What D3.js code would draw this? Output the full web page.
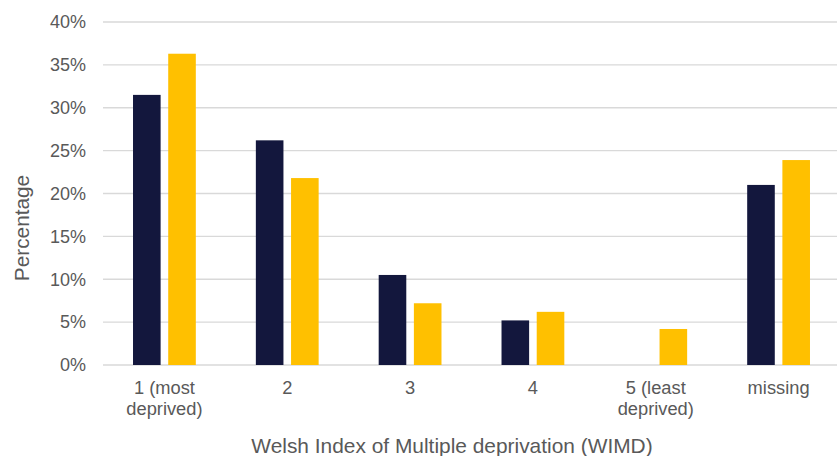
<!DOCTYPE html>
<html><head><meta charset="utf-8">
<script src="https://cdn.jsdelivr.net/npm/d3@7"></script>
<style>body{margin:0;background:#fff}svg{display:block}text{font-family:"Liberation Sans",Arial,sans-serif;fill:#595959}</style>
</head><body><svg id="c" width="837" height="456"></svg>
<script>
const categories = [["1 (most","deprived)"],["2"],["3"],["4"],["5 (least","deprived)"],["missing"]];
const seriesA = [31.5, 26.2, 10.5, 5.2, 0, 21.0];
const seriesB = [36.3, 21.8, 7.2, 6.2, 4.2, 23.9];
const yTicks = [0,5,10,15,20,25,30,35,40];
const colors = ["#13173d", "#ffc000"];

const svg = d3.select("#c");
const mLeft = 103, mRight = 840, mTop = 22, mBottom = 365;
const keys = categories.map((c,i)=>i);
const x = d3.scaleBand().domain(keys).range([mLeft,mRight]);
const y = d3.scaleLinear().domain([0,40]).range([mBottom, mTop]);

// gridlines
svg.append("g").selectAll("line").data(yTicks).join("line")
  .attr("x1",mLeft).attr("x2",mRight).attr("y1",d=>y(d)).attr("y2",d=>y(d))
  .attr("stroke","#d9d9d9").attr("stroke-width",1.3);

// y tick labels
svg.append("g").selectAll("text").data(yTicks).join("text")
  .attr("x",86).attr("y",d=>y(d)).attr("dy","0.35em").attr("text-anchor","end")
  .attr("font-size",18).text(d=>d+"%");

const bw = 27.6, gap = 7.6;
const series = [seriesA, seriesB];
series.forEach((s,si)=>{
  svg.append("g").selectAll("rect").data(s).join("rect")
    .attr("x",(d,i)=>x(i)+x.bandwidth()/2 + (si===0 ? -gap/2-bw : gap/2))
    .attr("width",bw)
    .attr("y",d=>y(d)).attr("height",d=>mBottom-y(d))
    .attr("fill",colors[si]);
});

// x labels
const xl = svg.append("g").selectAll("text").data(categories).join("text")
  .attr("text-anchor","middle").attr("font-size",18.3)
  .attr("transform",(d,i)=>`translate(${x(i)+x.bandwidth()/2},393.5)`);
xl.selectAll("tspan").data(d=>d).join("tspan")
  .attr("x",0).attr("dy",(d,j)=>j===0?0:21.5).text(d=>d);

// axis titles
svg.append("text").attr("x",452).attr("y",453).attr("text-anchor","middle")
  .attr("font-size",20.9).text("Welsh Index of Multiple deprivation (WIMD)");
svg.append("text").attr("transform","translate(28.5,228) rotate(-90)").attr("text-anchor","middle")
  .attr("font-size",20.8).text("Percentage");
</script></body></html>
